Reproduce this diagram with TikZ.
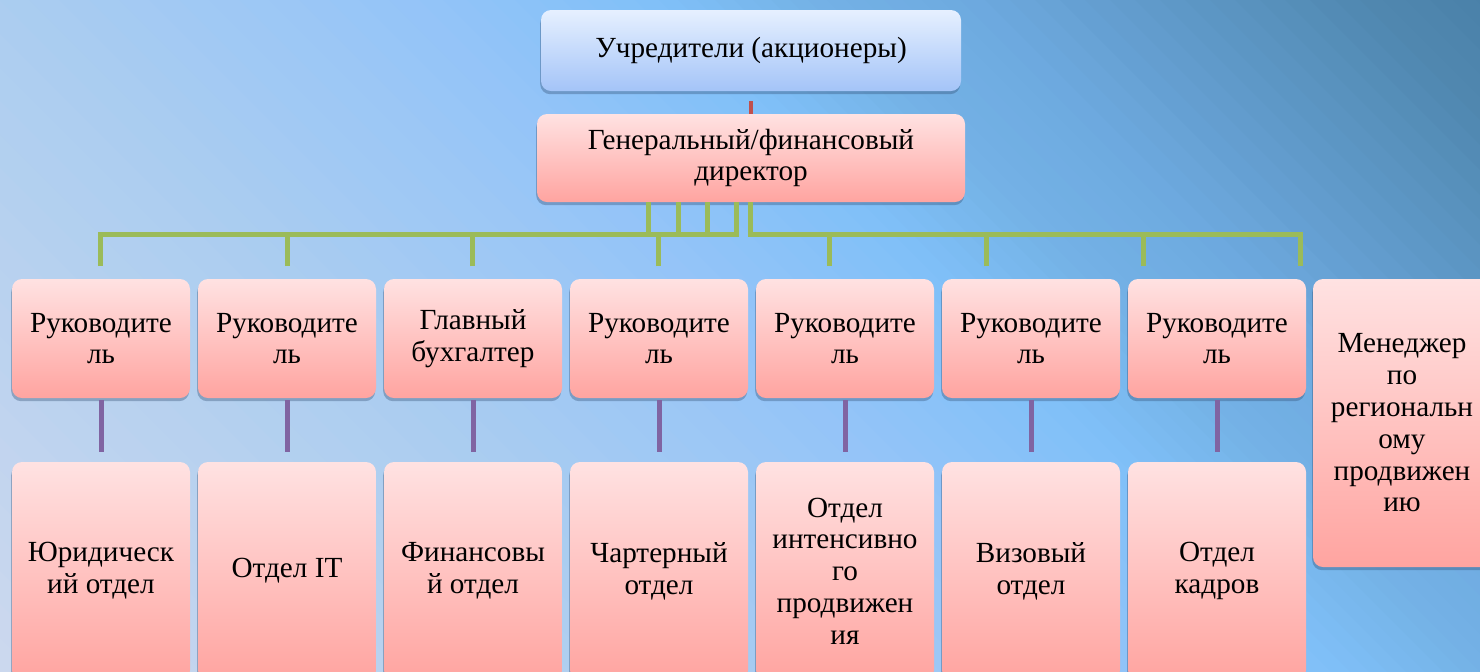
\documentclass[tikz,border=0pt]{standalone}
\usepackage{fontspec}
\setmainfont{Liberation Serif}
\usetikzlibrary{shadows}
\definecolor{bgA}{HTML}{CCD8EE}
\definecolor{bgB}{HTML}{ABCDF0}
\definecolor{bgC}{HTML}{94C4F8}
\definecolor{bgD}{HTML}{80C0F8}
\definecolor{bgE}{HTML}{74B2E6}
\definecolor{bgF}{HTML}{6EAAE0}
\definecolor{bgG}{HTML}{5088B0}
\definecolor{bgH}{HTML}{4A80A8}
\definecolor{pinkT}{HTML}{FFE2E2}
\definecolor{pinkB}{HTML}{FFA4A0}
\definecolor{blueT}{HTML}{E6F0FF}
\definecolor{blueB}{HTML}{A4C4F8}
\definecolor{gLine}{HTML}{9BBB59}
\definecolor{pLine}{HTML}{8064A2}
\definecolor{rLine}{HTML}{C0504D}
\definecolor{shadowC}{HTML}{2E4A6E}
% diagonal background strips: q = x - y (pixel units)
\newcommand\bgseg[5]{%
  \foreach \k in {1,...,#5}{%
    \pgfmathsetmacro\qa{#1+(#2-#1)*(\k-1)/#5}%
    \pgfmathsetmacro\qb{#1+(#2-#1)*\k/#5+1.5}%
    \pgfmathtruncatemacro\pc{100*(\k-0.5)/#5}%
    \fill[#4!\pc!#3] (\qa-10,-10) -- (\qa+690,690) -- (\qb+690,690) -- (\qb-10,-10) -- cycle;
  }%
}
\tikzset{
  box/.style={rounded corners=5pt, top color=pinkT, bottom color=pinkB, draw=none,
    align=center, inner sep=0pt, text=black,
    font=\fontsize{14.6pt}{15.9pt}\selectfont,
    drop shadow={shadow xshift=-0.4pt, shadow yshift=-1.6pt, opacity=0.35, fill=shadowC}},
  midbox/.style={box, minimum width=89pt, minimum height=59.5pt},
  lowbox/.style={box, minimum width=89pt, minimum height=109pt},
  topbox/.style={box, top color=blueT, bottom color=blueB},
  gline/.style={draw=gLine, line width=2.5pt, line join=miter},
  pline/.style={draw=pLine, line width=2.5pt, shorten <=1pt, shorten >=5pt},
  rline/.style={draw=rLine, line width=2pt, shorten <=5pt},
}
\begin{document}
\begin{tikzpicture}[x=0.5pt,y=-0.5pt]
\useasboundingbox (0,0) rectangle (1480,671);
\clip (0,0) rectangle (1480,671);
\fill[bgA] (0,0) rectangle (1480,671);
\bgseg{-690}{-671}{bgA}{bgA}{1}
\bgseg{-671}{0}{bgA}{bgB}{20}
\bgseg{0}{420}{bgB}{bgC}{14}
\bgseg{420}{660}{bgC}{bgD}{10}
\bgseg{660}{809}{bgD}{bgE}{8}
\bgseg{809}{960}{bgE}{bgF}{8}
\bgseg{960}{1360}{bgF}{bgG}{16}
\bgseg{1360}{1500}{bgG}{bgH}{6}

% coordinates for the green bus
\coordinate (bus) at (0,234);
\coordinate (s1) at (648,202);
\coordinate (s2) at (678,202);
\coordinate (s3) at (707,202);
\coordinate (s4) at (736,202);
\coordinate (s5) at (750,202);
\coordinate (t1) at (100,266);
\coordinate (t2) at (287,266);
\coordinate (t3) at (472,266);
\coordinate (t4) at (658,266);
\coordinate (t5) at (829,266);
\coordinate (t6) at (986,266);
\coordinate (t7) at (1143,266);
\coordinate (t8) at (1300,266);

% nodes
\node[topbox, minimum width=210pt, minimum height=40.5pt] (top) at (751,50.5) {Учредители (акционеры)};
\node[box, minimum width=214pt, minimum height=44pt] (dir) at (751,158) {Генеральный/финансовый\\директор};

\node[midbox] (m1) at (101,338.5) {Руководите\\ль};
\node[midbox] (m2) at (287,338.5) {Руководите\\ль};
\node[midbox] (m3) at (473,338.5) {Главный\\бухгалтер};
\node[midbox] (m4) at (659,338.5) {Руководите\\ль};
\node[midbox] (m5) at (845,338.5) {Руководите\\ль};
\node[midbox] (m6) at (1031,338.5) {Руководите\\ль};
\node[midbox] (m7) at (1217,338.5) {Руководите\\ль};
\node[box, minimum width=89pt, minimum height=144pt] (mgr) at (1402,423) {Менеджер\\по\\региональн\\ому\\продвижен\\ию};

\node[lowbox] (b1) at (101,571) {Юридическ\\ий отдел};
\node[lowbox] (b2) at (287,571) {Отдел IT};
\node[lowbox] (b3) at (473,571) {Финансовы\\й отдел};
\node[lowbox] (b4) at (659,571) {Чартерный\\отдел};
\node[lowbox] (b5) at (845,571) {Отдел\\интенсивно\\го\\продвижен\\ия};
\node[lowbox] (b6) at (1031,571) {Визовый\\отдел};
\node[lowbox] (b7) at (1217,571) {Отдел\\кадров};

% connectors
\draw[rline] (top) -- (dir);

\draw[gline] (t1) -- (t1 |- bus) -- (s4 |- bus) -- (s4);
\draw[gline] (s1) -- (s1 |- bus);
\draw[gline] (s2) -- (s2 |- bus);
\draw[gline] (s3) -- (s3 |- bus);
\draw[gline] (t2) -- (t2 |- bus);
\draw[gline] (t3) -- (t3 |- bus);
\draw[gline] (t4) -- (t4 |- bus);
\draw[gline] (s5) -- (s5 |- bus) -- (t8 |- bus) -- (t8);
\draw[gline] (t5) -- (t5 |- bus);
\draw[gline] (t6) -- (t6 |- bus);
\draw[gline] (t7) -- (t7 |- bus);

\draw[pline] (m1) -- (b1);
\draw[pline] (m2) -- (b2);
\draw[pline] (m3) -- (b3);
\draw[pline] (m4) -- (b4);
\draw[pline] (m5) -- (b5);
\draw[pline] (m6) -- (b6);
\draw[pline] (m7) -- (b7);
\end{tikzpicture}
\end{document}
